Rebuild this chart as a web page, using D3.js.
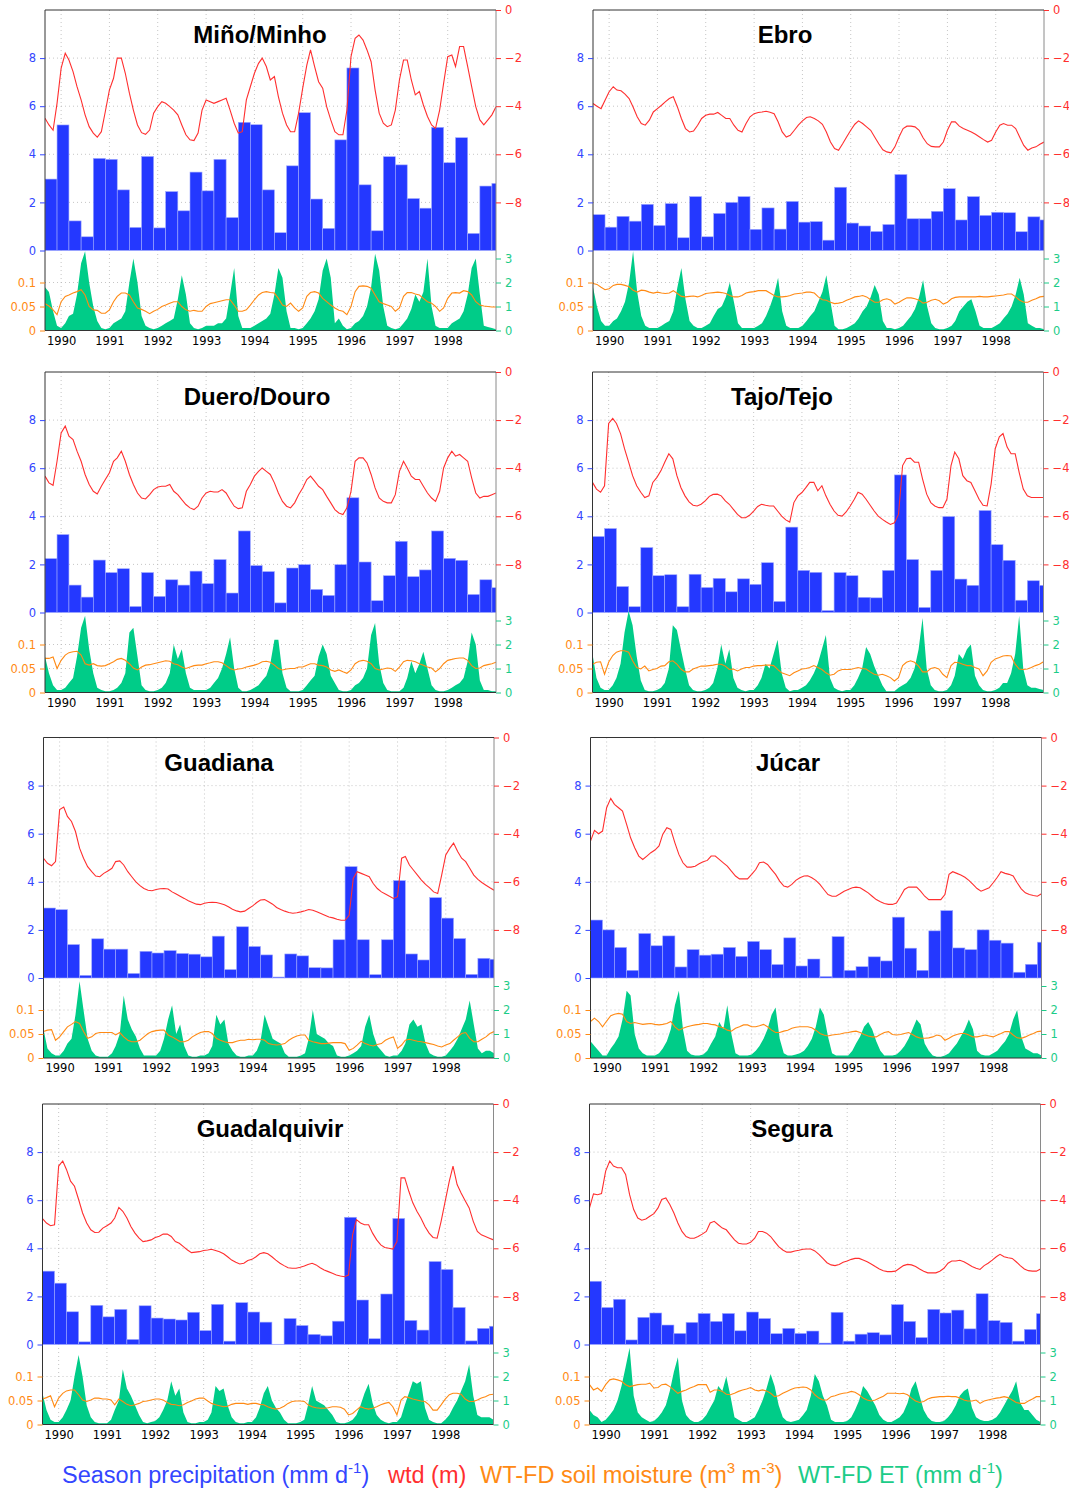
<!DOCTYPE html>
<html><head><meta charset="utf-8">
<script src="https://cdn.jsdelivr.net/npm/d3@7"></script>
<style>body{margin:0;background:#fff}svg{display:block}</style>
</head><body>
<svg id="chart" width="1069" height="1488"></svg>
<script>
// ---------- DATA ----------
const yearLabels = ["1990","1991","1992","1993","1994","1995","1996","1997","1998"];
const basinNames = ["Miño/Minho","Ebro","Duero/Douro","Tajo/Tejo","Guadiana","Júcar","Guadalquivir","Segura"];
const leftTicksTop = [0,2,4,6,8];
const rightTicksTop = [0,-2,-4,-6,-8];
const leftTicksBottom = [0,0.05,0.1];
const rightTicksBottom = [0,1,2,3];

// Seasonal precipitation (mm/d), seasons SON 1989 ... DJF 1998/99
const minoPrecip = [2.97,5.22,1.23,0.57,3.83,3.79,2.52,0.96,3.91,0.94,2.45,1.65,3.26,2.48,3.79,1.37,5.33,5.23,2.52,0.74,3.52,5.73,2.14,0.92,4.6,7.59,2.73,0.82,3.9,3.56,2.16,1.76,5.12,3.65,4.69,0.71,2.68,2.79];
const ebroPrecip = [1.49,0.97,1.42,1.22,1.92,1.04,1.95,0.53,2.24,0.57,1.54,2.0,2.24,0.88,1.77,0.89,2.04,1.18,1.2,0.43,2.63,1.14,1.02,0.79,1.08,3.16,1.32,1.32,1.63,2.57,1.27,2.24,1.46,1.59,1.57,0.78,1.4,1.27];
const dueroPrecip = [2.24,3.24,1.14,0.64,2.18,1.66,1.82,0.25,1.66,0.67,1.36,1.14,1.72,1.2,2.2,0.81,3.39,1.95,1.7,0.4,1.85,1.99,0.96,0.71,1.99,4.77,2.1,0.49,1.53,2.96,1.49,1.77,3.39,2.25,2.17,0.75,1.36,1.03];
const tajoPrecip = [3.16,3.49,1.08,0.24,2.7,1.53,1.57,0.24,1.59,1.04,1.42,0.86,1.4,1.17,2.07,0.46,3.55,1.75,1.67,0.08,1.66,1.53,0.63,0.61,1.75,5.72,2.2,0.21,1.75,3.99,1.39,1.13,4.24,2.82,2.17,0.51,1.32,1.13];
const guadianaPrecip = [2.91,2.84,1.39,0.11,1.63,1.2,1.2,0.19,1.11,1.04,1.14,1.02,0.99,0.88,1.74,0.35,2.13,1.31,0.96,0.04,1.0,0.92,0.43,0.42,1.59,4.63,1.59,0.14,1.59,4.05,1.0,0.75,3.34,2.49,1.64,0.15,0.82,0.78];
const jucarPrecip = [2.41,2.0,1.27,0.32,1.85,1.34,1.75,0.46,1.18,0.95,0.99,1.27,0.9,1.52,1.18,0.56,1.67,0.5,0.79,0.06,1.72,0.32,0.47,0.88,0.71,2.53,1.24,0.32,1.96,2.8,1.25,1.18,2.0,1.57,1.45,0.24,0.57,1.49];
const guadalquivirPrecip = [3.05,2.55,1.36,0.11,1.63,1.15,1.46,0.21,1.61,1.1,1.06,1.02,1.34,0.58,1.67,0.14,1.74,1.35,0.93,0.01,1.08,0.79,0.42,0.36,0.97,5.29,1.85,0.24,2.1,5.24,1.0,0.6,3.45,3.12,1.54,0.15,0.67,0.76];
const seguraPrecip = [2.63,1.54,1.88,0.19,1.13,1.31,0.81,0.46,0.92,1.29,0.96,1.29,0.57,1.35,1.08,0.45,0.67,0.46,0.56,0.06,1.34,0.14,0.43,0.49,0.4,1.66,0.96,0.29,1.46,1.31,1.43,0.65,2.11,0.99,0.92,0.14,0.63,1.28];

// Water table depth (m), monthly Sep 1989 ... Jan 1999
const minoWtd = [-4.5,-4.78,-5.0,-3.88,
-2.42,-1.8,-2.08,-2.56,-3.19,-3.74,-4.36,-4.85,-5.12,-5.29,-5.06,-4.22,
-3.32,-2.84,-2.0,-2.0,-2.63,-3.46,-4.16,-4.78,-5.1,-5.17,-4.99,-4.29,
-4.02,-3.81,-3.88,-4.02,-4.16,-4.36,-4.78,-5.19,-5.4,-5.43,-5.12,-4.16,
-3.74,-3.81,-3.88,-3.81,-3.74,-3.67,-4.16,-4.71,-5.12,-5.06,-3.74,-3.19,
-2.63,-2.22,-2.0,-2.35,-2.91,-2.77,-3.6,-4.29,-4.78,-5.06,-5.06,-4.29,
-3.25,-2.29,-1.66,-2.35,-2.98,-3.25,-4.02,-4.57,-5.06,-5.19,-5.19,-4.16,
-1.94,-1.18,-1.04,-1.25,-1.66,-2.15,-3.32,-4.29,-4.71,-4.85,-4.78,-4.16,
-2.91,-2.08,-2.08,-2.91,-3.53,-3.39,-3.95,-4.43,-4.78,-4.92,-4.16,-3.05,
-1.94,-1.87,-2.35,-1.52,-1.52,-2.35,-3.19,-4.02,-4.57,-4.78,-4.57,-4.36,
-4.02];
const ebroWtd = [-3.89,-4.0,-4.1,-3.75,
-3.4,-3.19,-3.33,-3.36,-3.5,-3.68,-4.03,-4.44,-4.72,-4.79,-4.58,-4.24,
-4.1,-3.96,-3.82,-3.68,-3.61,-4.03,-4.51,-4.93,-5.07,-5.03,-4.79,-4.51,
-4.38,-4.33,-4.33,-4.26,-4.38,-4.51,-4.51,-4.79,-5.0,-5.07,-4.72,-4.44,
-4.31,-4.26,-4.24,-4.21,-4.25,-4.31,-4.65,-5.07,-5.28,-5.21,-5.0,-4.79,
-4.61,-4.47,-4.44,-4.51,-4.61,-4.75,-5.07,-5.49,-5.76,-5.83,-5.56,-5.28,
-5.0,-4.75,-4.61,-4.72,-4.86,-5.0,-5.28,-5.56,-5.81,-5.9,-5.94,-5.69,
-5.28,-4.93,-4.83,-4.83,-4.86,-5.0,-5.31,-5.56,-5.67,-5.69,-5.69,-5.49,
-5.0,-4.65,-4.65,-4.83,-4.93,-5.0,-5.07,-5.17,-5.28,-5.39,-5.49,-5.42,
-5.07,-4.79,-4.72,-4.79,-4.79,-4.93,-5.28,-5.63,-5.83,-5.74,-5.69,-5.58,
-5.49];
const dueroWtd = [-4.33,-4.61,-4.71,-3.71,
-2.53,-2.25,-2.67,-2.81,-3.29,-3.71,-4.26,-4.68,-4.96,-5.07,-4.75,-4.47,
-4.19,-3.71,-3.57,-3.29,-3.71,-4.26,-4.68,-5.03,-5.24,-5.28,-5.1,-4.89,
-4.78,-4.75,-4.75,-4.68,-4.96,-5.1,-5.31,-5.51,-5.65,-5.72,-5.58,-5.24,
-5.03,-4.96,-4.99,-4.99,-4.89,-5.03,-5.31,-5.58,-5.68,-5.65,-4.96,-4.68,
-4.33,-4.13,-3.99,-4.13,-4.26,-4.61,-5.03,-5.38,-5.58,-5.65,-5.44,-5.1,
-4.82,-4.47,-4.33,-4.54,-4.75,-4.89,-5.17,-5.44,-5.72,-5.86,-5.93,-5.65,
-4.96,-3.71,-3.57,-3.57,-3.78,-4.26,-4.82,-5.24,-5.38,-5.44,-5.44,-5.1,
-4.13,-3.71,-3.99,-4.33,-4.47,-4.47,-4.75,-5.03,-5.24,-5.38,-4.96,-3.99,
-3.57,-3.29,-3.5,-3.43,-3.57,-3.71,-4.4,-5.03,-5.24,-5.17,-5.17,-5.1,
-5.03];
const tajoWtd = [-4.59,-4.87,-5.0,-4.73,
-2.14,-1.93,-2.14,-2.56,-3.19,-3.75,-4.31,-4.73,-5.0,-5.22,-5.15,-4.59,
-4.38,-4.1,-3.75,-3.4,-3.61,-4.31,-4.8,-5.15,-5.4,-5.54,-5.57,-5.5,
-5.36,-5.17,-5.09,-5.08,-5.15,-5.36,-5.5,-5.71,-5.92,-6.06,-6.06,-5.96,
-5.78,-5.59,-5.5,-5.54,-5.57,-5.57,-5.78,-5.99,-6.15,-6.24,-5.43,-5.15,
-5.01,-4.8,-4.59,-4.59,-4.94,-4.73,-5.15,-5.5,-5.78,-5.96,-5.99,-5.82,
-5.57,-5.29,-5.0,-5.08,-5.29,-5.54,-5.78,-5.99,-6.13,-6.24,-6.34,-6.27,
-5.92,-3.89,-3.61,-3.58,-3.75,-3.75,-4.45,-5.08,-5.43,-5.57,-5.64,-5.64,
-5.29,-3.89,-3.33,-3.61,-4.31,-4.52,-4.59,-4.94,-5.29,-5.54,-5.57,-4.66,
-3.19,-2.7,-2.56,-3.12,-3.4,-3.4,-4.17,-4.87,-5.15,-5.22,-5.22,-5.22,
-5.22];
const guadianaWtd = [-5.02,-5.23,-5.33,-5.16,
-3.0,-2.89,-3.28,-3.49,-3.91,-4.6,-5.02,-5.37,-5.58,-5.76,-5.79,-5.65,
-5.55,-5.44,-5.16,-5.13,-5.3,-5.58,-5.79,-6.0,-6.16,-6.28,-6.35,-6.37,
-6.32,-6.29,-6.28,-6.3,-6.42,-6.51,-6.6,-6.69,-6.79,-6.86,-6.93,-6.95,
-6.89,-6.86,-6.85,-6.86,-6.9,-6.95,-7.04,-7.14,-7.21,-7.25,-7.22,-7.11,
-7.0,-6.86,-6.76,-6.74,-6.83,-6.93,-7.07,-7.15,-7.22,-7.28,-7.31,-7.29,
-7.25,-7.2,-7.15,-7.18,-7.25,-7.32,-7.39,-7.46,-7.5,-7.56,-7.6,-7.6,
-7.39,-5.86,-5.58,-5.65,-5.72,-5.79,-6.07,-6.28,-6.42,-6.51,-6.6,-6.69,
-6.62,-5.02,-4.95,-5.3,-5.51,-5.72,-5.93,-6.11,-6.25,-6.42,-6.49,-5.72,
-4.88,-4.6,-4.39,-4.74,-5.02,-5.16,-5.44,-5.72,-5.9,-6.03,-6.14,-6.25,
-6.35];
const jucarWtd = [-4.31,-3.86,-4.0,-3.89,
-2.92,-2.53,-2.78,-2.92,-3.06,-3.61,-4.17,-4.58,-4.93,-5.07,-4.93,-4.79,
-4.68,-4.51,-4.03,-3.75,-3.82,-4.38,-4.86,-5.21,-5.39,-5.39,-5.35,-5.25,
-5.17,-5.11,-4.93,-4.93,-5.07,-5.21,-5.35,-5.56,-5.76,-5.88,-5.88,-5.88,
-5.69,-5.49,-5.21,-5.18,-5.28,-5.49,-5.69,-5.97,-6.18,-6.22,-6.11,-5.94,
-5.83,-5.76,-5.75,-5.83,-5.94,-6.11,-6.32,-6.53,-6.6,-6.6,-6.5,-6.39,
-6.32,-6.25,-6.22,-6.25,-6.35,-6.46,-6.6,-6.74,-6.83,-6.9,-6.94,-6.94,
-6.88,-6.6,-6.32,-6.22,-6.22,-6.22,-6.39,-6.6,-6.74,-6.74,-6.74,-6.74,
-6.53,-5.69,-5.58,-5.65,-5.72,-5.81,-5.94,-6.11,-6.28,-6.39,-6.32,-6.25,
-6.04,-5.81,-5.58,-5.65,-5.69,-5.76,-6.04,-6.29,-6.46,-6.53,-6.57,-6.6,
-6.5];
const guadalquivirWtd = [-4.77,-4.95,-5.06,-5.02,
-2.58,-2.37,-2.72,-3.21,-3.42,-3.97,-4.53,-4.95,-5.23,-5.34,-5.33,-5.16,
-5.06,-4.95,-4.74,-4.3,-4.46,-4.74,-5.09,-5.37,-5.58,-5.72,-5.69,-5.65,
-5.55,-5.5,-5.41,-5.41,-5.51,-5.72,-5.79,-5.93,-6.07,-6.18,-6.16,-6.14,
-6.09,-6.07,-6.04,-6.09,-6.14,-6.23,-6.35,-6.49,-6.58,-6.65,-6.62,-6.51,
-6.46,-6.35,-6.23,-6.18,-6.23,-6.35,-6.49,-6.62,-6.72,-6.81,-6.83,-6.83,
-6.79,-6.74,-6.67,-6.62,-6.69,-6.81,-6.9,-6.97,-7.04,-7.11,-7.15,-7.18,
-7.11,-5.44,-4.81,-4.95,-5.02,-5.02,-5.37,-5.65,-5.86,-5.97,-6.0,-6.03,
-5.72,-3.07,-3.07,-3.63,-4.11,-4.46,-4.74,-5.09,-5.37,-5.55,-5.58,-4.88,
-4.04,-3.21,-2.58,-3.35,-3.7,-4.02,-4.32,-4.88,-5.3,-5.44,-5.51,-5.58,
-5.65];
const seguraWtd = [-4.32,-3.74,-3.77,-3.72,
-2.79,-2.37,-2.58,-2.65,-2.65,-2.93,-3.77,-4.39,-4.74,-4.83,-4.78,-4.67,
-4.56,-4.32,-3.97,-3.91,-4.18,-4.53,-4.95,-5.3,-5.51,-5.58,-5.58,-5.51,
-5.41,-5.3,-4.95,-4.88,-5.02,-5.16,-5.23,-5.44,-5.65,-5.79,-5.82,-5.82,
-5.75,-5.58,-5.3,-5.3,-5.37,-5.51,-5.72,-5.93,-6.07,-6.16,-6.16,-6.11,
-6.08,-6.04,-6.03,-6.03,-6.11,-6.25,-6.42,-6.6,-6.69,-6.72,-6.67,-6.58,
-6.53,-6.46,-6.42,-6.42,-6.49,-6.56,-6.65,-6.76,-6.86,-6.93,-6.97,-6.97,
-6.95,-6.83,-6.72,-6.67,-6.69,-6.76,-6.86,-6.95,-7.02,-7.02,-7.02,-6.95,
-6.83,-6.62,-6.53,-6.53,-6.5,-6.56,-6.65,-6.76,-6.83,-6.88,-6.72,-6.62,
-6.49,-6.35,-6.25,-6.35,-6.39,-6.42,-6.56,-6.72,-6.86,-6.93,-6.95,-6.95,
-6.86];

// WT-FD soil moisture (m3/m3), monthly Sep 1989 ... Jan 1999
const minoSm = [0.056,0.051,0.043,0.033,
0.06,0.071,0.074,0.078,0.081,0.085,0.074,0.05,0.043,0.042,0.036,0.036,
0.043,0.06,0.071,0.078,0.078,0.074,0.06,0.047,0.044,0.04,0.035,0.04,
0.044,0.05,0.053,0.057,0.06,0.06,0.05,0.043,0.04,0.042,0.04,0.04,
0.05,0.056,0.058,0.06,0.062,0.064,0.064,0.053,0.04,0.04,0.043,0.053,
0.064,0.074,0.079,0.081,0.079,0.078,0.067,0.053,0.05,0.057,0.047,0.04,
0.047,0.071,0.079,0.081,0.078,0.067,0.06,0.053,0.047,0.042,0.04,0.033,
0.05,0.081,0.092,0.093,0.092,0.088,0.074,0.06,0.056,0.053,0.05,0.04,
0.047,0.071,0.079,0.079,0.076,0.074,0.067,0.06,0.057,0.05,0.04,0.047,
0.067,0.078,0.079,0.078,0.083,0.081,0.074,0.06,0.053,0.051,0.05,0.049,
0.049];
const ebroSm = [0.098,0.096,0.09,0.085,
0.087,0.094,0.096,0.096,0.094,0.091,0.084,0.08,0.084,0.083,0.08,0.078,
0.08,0.078,0.077,0.078,0.083,0.077,0.071,0.07,0.071,0.072,0.07,0.073,
0.077,0.078,0.079,0.08,0.079,0.077,0.073,0.07,0.07,0.073,0.078,0.08,
0.081,0.083,0.083,0.083,0.078,0.073,0.07,0.07,0.071,0.073,0.076,0.077,
0.078,0.08,0.08,0.078,0.07,0.064,0.063,0.059,0.056,0.057,0.059,0.063,
0.066,0.07,0.071,0.073,0.07,0.064,0.059,0.059,0.064,0.066,0.063,0.055,
0.059,0.064,0.068,0.068,0.066,0.063,0.057,0.059,0.063,0.065,0.062,0.055,
0.059,0.066,0.069,0.07,0.07,0.07,0.07,0.07,0.071,0.07,0.07,0.071,
0.072,0.073,0.074,0.076,0.076,0.07,0.063,0.059,0.059,0.063,0.066,0.07,
0.071];
const dueroSm = [0.071,0.071,0.074,0.05,
0.067,0.078,0.083,0.085,0.086,0.078,0.06,0.057,0.06,0.056,0.055,0.056,
0.06,0.064,0.069,0.071,0.067,0.06,0.051,0.047,0.053,0.057,0.058,0.06,
0.062,0.064,0.066,0.065,0.06,0.058,0.053,0.05,0.053,0.056,0.057,0.057,
0.06,0.062,0.064,0.064,0.062,0.056,0.05,0.047,0.049,0.05,0.053,0.055,
0.057,0.06,0.064,0.065,0.063,0.057,0.05,0.047,0.049,0.05,0.05,0.053,
0.053,0.057,0.06,0.06,0.057,0.056,0.053,0.047,0.044,0.047,0.043,0.04,
0.047,0.06,0.065,0.067,0.065,0.06,0.05,0.047,0.049,0.051,0.05,0.044,
0.053,0.064,0.067,0.066,0.064,0.06,0.057,0.053,0.051,0.043,0.05,0.06,
0.067,0.069,0.071,0.072,0.072,0.067,0.056,0.05,0.051,0.056,0.058,0.06,
0.063];
const tajoSm = [0.059,0.063,0.064,0.038,
0.063,0.077,0.084,0.087,0.087,0.084,0.066,0.052,0.049,0.055,0.045,0.048,
0.05,0.055,0.056,0.064,0.066,0.059,0.049,0.043,0.043,0.049,0.052,0.055,
0.055,0.056,0.057,0.059,0.059,0.055,0.048,0.049,0.045,0.049,0.052,0.052,
0.055,0.056,0.056,0.057,0.057,0.056,0.048,0.041,0.038,0.035,0.041,0.045,
0.049,0.05,0.052,0.056,0.052,0.048,0.041,0.036,0.038,0.045,0.048,0.048,
0.048,0.05,0.052,0.05,0.049,0.043,0.038,0.036,0.038,0.035,0.031,0.024,
0.031,0.056,0.063,0.066,0.063,0.055,0.043,0.043,0.05,0.052,0.049,0.038,
0.031,0.056,0.063,0.062,0.059,0.056,0.056,0.052,0.049,0.035,0.045,0.063,
0.07,0.073,0.076,0.077,0.076,0.059,0.049,0.048,0.049,0.052,0.056,0.059,
0.064];
const guadianaSm = [0.055,0.058,0.059,0.037,
0.044,0.055,0.065,0.07,0.076,0.072,0.055,0.041,0.044,0.051,0.053,0.053,
0.053,0.053,0.048,0.053,0.044,0.037,0.034,0.034,0.037,0.044,0.051,0.055,
0.057,0.058,0.058,0.048,0.044,0.039,0.034,0.034,0.037,0.044,0.049,0.053,
0.055,0.055,0.051,0.041,0.037,0.034,0.032,0.032,0.035,0.037,0.037,0.039,
0.038,0.039,0.039,0.037,0.03,0.028,0.027,0.028,0.03,0.037,0.042,0.046,
0.048,0.048,0.037,0.034,0.032,0.03,0.03,0.031,0.032,0.032,0.032,0.03,
0.016,0.02,0.027,0.035,0.03,0.027,0.025,0.028,0.03,0.037,0.041,0.044,
0.02,0.027,0.037,0.039,0.037,0.035,0.034,0.032,0.03,0.028,0.025,0.023,
0.027,0.03,0.037,0.044,0.051,0.053,0.041,0.034,0.034,0.039,0.044,0.051,
0.055];
const jucarSm = [0.076,0.083,0.076,0.065,
0.077,0.088,0.091,0.093,0.091,0.076,0.072,0.074,0.072,0.07,0.071,0.072,
0.07,0.069,0.07,0.072,0.076,0.065,0.058,0.062,0.065,0.067,0.069,0.07,
0.072,0.072,0.07,0.069,0.065,0.063,0.058,0.056,0.062,0.065,0.069,0.069,
0.065,0.065,0.067,0.07,0.065,0.058,0.053,0.053,0.056,0.058,0.062,0.064,
0.065,0.065,0.065,0.063,0.058,0.051,0.048,0.046,0.048,0.049,0.05,0.052,
0.053,0.055,0.056,0.053,0.049,0.046,0.044,0.044,0.049,0.053,0.055,0.049,
0.048,0.049,0.051,0.053,0.049,0.044,0.041,0.041,0.042,0.044,0.048,0.046,
0.037,0.041,0.046,0.049,0.051,0.051,0.048,0.044,0.044,0.046,0.048,0.046,
0.044,0.048,0.051,0.055,0.055,0.048,0.042,0.041,0.044,0.048,0.051,0.055,
0.056];
const guadalquivirSm = [0.053,0.056,0.06,0.037,
0.055,0.065,0.07,0.072,0.072,0.062,0.051,0.048,0.051,0.055,0.055,0.053,
0.053,0.051,0.041,0.053,0.048,0.042,0.039,0.041,0.044,0.048,0.049,0.051,
0.053,0.053,0.051,0.046,0.042,0.041,0.039,0.041,0.046,0.049,0.053,0.055,
0.055,0.049,0.044,0.041,0.039,0.037,0.038,0.042,0.044,0.044,0.044,0.042,
0.044,0.044,0.042,0.041,0.037,0.034,0.032,0.034,0.038,0.044,0.048,0.049,
0.049,0.048,0.041,0.037,0.035,0.034,0.034,0.035,0.037,0.037,0.036,0.032,
0.02,0.023,0.03,0.037,0.034,0.032,0.034,0.037,0.041,0.044,0.046,0.037,
0.02,0.051,0.058,0.056,0.053,0.051,0.049,0.048,0.041,0.03,0.03,0.041,
0.053,0.062,0.065,0.065,0.063,0.053,0.048,0.048,0.051,0.055,0.058,0.062,
0.063];
const seguraSm = [0.083,0.072,0.076,0.069,
0.083,0.093,0.095,0.093,0.09,0.083,0.079,0.081,0.083,0.084,0.084,0.086,
0.076,0.077,0.083,0.084,0.079,0.072,0.065,0.069,0.072,0.076,0.079,0.083,
0.083,0.083,0.067,0.072,0.072,0.069,0.063,0.062,0.065,0.069,0.072,0.074,
0.077,0.072,0.07,0.072,0.07,0.065,0.058,0.06,0.065,0.069,0.073,0.076,
0.077,0.078,0.077,0.072,0.062,0.055,0.051,0.051,0.058,0.06,0.063,0.065,
0.066,0.069,0.067,0.062,0.055,0.051,0.049,0.051,0.055,0.059,0.065,0.065,
0.065,0.064,0.065,0.062,0.055,0.049,0.046,0.048,0.053,0.056,0.057,0.058,
0.058,0.059,0.058,0.058,0.055,0.051,0.049,0.049,0.051,0.044,0.049,0.051,
0.053,0.055,0.056,0.058,0.056,0.051,0.046,0.044,0.044,0.049,0.053,0.058,
0.058];

// WT-FD ET (mm/d), monthly Sep 1989 ... Jan 1999
const minoEt = [1.8,1.6,0.8,0.2,
0.1,0.3,0.6,0.7,1.5,2.8,3.3,2.0,1.0,0.4,0.1,0.05,
0.1,0.3,0.4,0.5,0.8,2.0,3.0,2.0,0.6,0.2,0.1,0.05,
0.1,0.2,0.3,0.4,0.5,1.3,2.3,1.5,0.3,0.1,0.05,0.1,
0.2,0.2,0.2,0.3,0.3,0.5,1.5,2.6,0.6,0.1,0.1,0.1,
0.2,0.3,0.4,0.5,0.7,1.5,2.6,2.2,0.8,0.1,0.1,0.05,
0.1,0.3,0.5,0.8,1.3,2.5,3.0,2.2,0.3,0.5,0.2,0.05,
0.1,0.3,0.4,0.6,1.0,1.8,3.2,2.5,1.0,0.2,0.1,0.05,
0.1,0.3,0.5,0.9,1.5,1.2,1.6,3.0,1.0,0.2,0.1,0.1,
0.1,0.3,0.4,0.5,0.8,1.5,2.6,3.0,1.5,0.2,0.15,0.1,
0.05];
const ebroEt = [1.8,1.0,0.4,0.2,
0.2,0.4,0.5,0.8,1.2,2.0,3.3,1.6,0.6,0.2,0.1,0.1,
0.1,0.2,0.3,0.4,0.8,1.8,2.6,1.3,0.4,0.2,0.1,0.1,
0.2,0.3,0.6,0.9,1.0,1.4,2.0,1.2,0.3,0.1,0.1,0.1,
0.1,0.2,0.3,0.6,1.0,1.5,2.2,0.8,0.2,0.1,0.1,0.1,
0.2,0.4,0.6,0.8,1.2,1.6,2.3,1.2,0.2,0.05,0.05,0.1,
0.2,0.3,0.5,0.8,1.0,1.4,1.9,1.5,0.4,0.1,0.1,0.05,
0.1,0.2,0.4,0.6,0.9,1.4,2.1,1.0,0.3,0.1,0.05,0.05,
0.1,0.2,0.4,0.8,1.0,1.2,1.3,0.8,0.2,0.1,0.1,0.1,
0.2,0.3,0.5,0.7,1.0,1.5,2.2,1.5,0.3,0.2,0.1,0.1,
0.05];
const dueroEt = [1.5,0.8,0.3,0.1,
0.1,0.2,0.4,0.6,1.5,2.7,3.2,1.8,0.8,0.2,0.1,0.05,
0.05,0.1,0.2,0.4,0.8,2.5,2.7,1.5,0.3,0.1,0.05,0.05,
0.1,0.2,0.4,0.8,2.0,1.4,1.8,0.8,0.2,0.1,0.1,0.1,
0.1,0.2,0.4,0.6,1.0,1.6,2.3,1.0,0.2,0.05,0.05,0.1,
0.2,0.3,0.5,0.7,1.2,2.2,2.2,0.8,0.2,0.05,0.05,0.05,
0.1,0.3,0.5,0.7,1.5,2.0,1.6,0.7,0.4,0.1,0.05,0.05,
0.1,0.3,0.4,0.6,1.0,2.4,2.9,1.2,0.4,0.1,0.05,0.05,
0.05,0.2,0.6,1.3,0.8,1.2,1.7,1.0,0.3,0.1,0.05,0.05,
0.1,0.2,0.3,0.4,0.6,1.3,2.5,2.0,0.5,0.1,0.1,0.05,
0.05];
const tajoEt = [1.6,0.6,0.2,0.1,
0.1,0.3,0.6,1.2,2.5,3.4,2.8,1.5,0.5,0.1,0.05,0.05,
0.1,0.2,0.4,1.0,2.8,2.6,1.8,1.0,0.3,0.1,0.05,0.05,
0.1,0.2,0.4,1.0,2.0,1.2,1.8,0.6,0.2,0.1,0.05,0.1,
0.1,0.3,0.6,1.2,1.0,1.6,2.2,0.8,0.2,0.05,0.1,0.1,
0.2,0.3,0.5,0.8,1.2,1.8,2.4,0.6,0.2,0.1,0.05,0.1,
0.1,0.3,0.6,1.0,1.9,1.6,1.1,0.7,0.3,0.05,0.05,0.05,
0.2,0.3,0.4,0.6,1.0,1.8,3.1,1.0,0.3,0.1,0.05,0.05,
0.1,0.3,0.7,1.6,1.4,1.8,2.0,0.7,0.3,0.1,0.05,0.05,
0.1,0.2,0.4,0.4,0.8,1.6,3.2,1.0,0.3,0.2,0.2,0.15,
0.1];
const guadianaEt = [1.2,0.4,0.2,0.1,
0.1,0.3,0.6,0.8,1.8,3.2,2.0,0.8,0.3,0.1,0.05,0.05,
0.05,0.2,0.5,1.0,2.6,1.6,1.2,0.9,0.4,0.1,0.1,0.1,
0.1,0.3,0.8,1.6,2.2,1.0,1.4,0.5,0.1,0.05,0.05,0.1,
0.1,0.2,0.5,1.8,1.4,1.6,0.6,0.3,0.1,0.05,0.05,0.1,
0.1,0.3,0.7,1.8,1.3,0.8,0.7,0.6,0.2,0.05,0.05,0.05,
0.1,0.2,0.8,2.0,1.0,0.9,0.8,0.6,0.5,0.1,0.05,0.05,
0.1,0.2,0.3,0.5,1.3,1.8,1.0,0.5,0.3,0.1,0.05,0.1,
0.1,0.3,0.6,1.4,1.6,1.3,1.4,0.6,0.2,0.1,0.05,0.05,
0.1,0.3,0.5,0.8,1.2,1.6,2.4,1.4,0.4,0.2,0.3,0.3,
0.2];
const jucarEt = [0.7,0.5,0.3,0.1,
0.1,0.4,0.6,0.9,1.6,2.8,2.6,1.0,0.4,0.2,0.1,0.1,
0.1,0.2,0.4,0.7,1.2,2.2,2.8,1.2,0.3,0.15,0.1,0.1,
0.15,0.3,0.6,0.9,1.5,1.2,2.2,1.0,0.2,0.1,0.1,0.1,
0.15,0.3,0.5,0.8,1.2,1.8,2.1,0.8,0.2,0.1,0.1,0.15,
0.2,0.3,0.5,0.8,1.3,2.1,1.8,0.9,0.2,0.1,0.1,0.1,
0.1,0.3,0.6,0.9,1.3,1.5,1.2,0.7,0.3,0.1,0.1,0.1,
0.15,0.3,0.5,0.8,1.2,1.6,1.4,0.6,0.3,0.1,0.05,0.05,
0.1,0.2,0.4,0.6,0.9,1.2,1.6,1.2,0.3,0.15,0.1,0.1,
0.2,0.3,0.5,0.7,1.0,1.6,2.0,0.9,0.4,0.3,0.2,0.2,
0.1];
const guadalquivirEt = [1.3,0.6,0.2,0.1,
0.1,0.3,0.6,1.0,2.0,2.9,2.0,0.8,0.3,0.1,0.05,0.05,
0.05,0.2,0.6,1.0,2.3,1.5,1.2,0.8,0.4,0.1,0.05,0.1,
0.15,0.3,0.6,1.0,1.8,1.2,1.5,0.5,0.1,0.05,0.05,0.1,
0.1,0.2,0.5,1.6,1.4,1.5,0.8,0.3,0.1,0.05,0.05,0.1,
0.1,0.3,0.7,1.3,1.6,1.0,0.7,0.5,0.2,0.05,0.05,0.05,
0.1,0.2,0.8,1.6,1.0,0.9,0.8,0.6,0.4,0.1,0.05,0.05,
0.1,0.2,0.4,0.8,1.3,1.7,0.9,0.4,0.2,0.1,0.05,0.1,
0.1,0.3,0.8,1.3,1.8,1.7,1.8,0.7,0.2,0.1,0.05,0.05,
0.2,0.4,0.7,1.0,1.4,1.8,2.5,1.2,0.4,0.3,0.3,0.3,
0.2];
const seguraEt = [0.6,0.4,0.3,0.1,
0.2,0.4,0.6,1.0,1.6,2.4,3.2,1.2,0.5,0.3,0.2,0.1,
0.15,0.3,0.5,0.8,1.4,2.2,2.8,1.0,0.4,0.2,0.1,0.1,
0.2,0.4,0.7,1.0,1.6,1.4,2.0,1.2,0.3,0.2,0.1,0.1,
0.2,0.3,0.6,1.0,1.5,2.1,1.6,0.8,0.3,0.15,0.1,0.15,
0.2,0.4,0.6,1.2,2.1,1.8,1.2,0.8,0.2,0.1,0.1,0.1,
0.15,0.3,0.6,1.0,1.6,1.4,1.1,0.8,0.4,0.2,0.1,0.1,
0.2,0.3,0.5,0.9,1.5,1.8,1.2,0.6,0.3,0.15,0.1,0.1,
0.15,0.3,0.5,0.8,1.2,1.4,1.5,0.7,0.3,0.2,0.15,0.15,
0.2,0.3,0.5,0.8,1.1,1.4,1.8,0.9,0.6,0.6,0.4,0.2,
0.1];

// ---------- LAYOUT ----------
const C = {blue:"#2438ff", blueTxt:"#3346ff", red:"#ff2f2f", orange:"#ff8a14", green:"#00cc88", greenTxt:"#1ccc88"};
const panels = [
  {name:basinNames[0], precip:minoPrecip, wtd:minoWtd, sm:minoSm, et:minoEt, L:45, R:496, T:10, tx:260},
  {name:basinNames[1], precip:ebroPrecip, wtd:ebroWtd, sm:ebroSm, et:ebroEt, L:593, R:1044, T:10, tx:785},
  {name:basinNames[2], precip:dueroPrecip, wtd:dueroWtd, sm:dueroSm, et:dueroEt, L:45, R:496, T:372, tx:257},
  {name:basinNames[3], precip:tajoPrecip, wtd:tajoWtd, sm:tajoSm, et:tajoEt, L:592.5, R:1043.5, T:372, tx:782},
  {name:basinNames[4], precip:guadianaPrecip, wtd:guadianaWtd, sm:guadianaSm, et:guadianaEt, L:43.5, R:494, T:737.5, tx:219},
  {name:basinNames[5], precip:jucarPrecip, wtd:jucarWtd, sm:jucarSm, et:jucarEt, L:590.5, R:1041.5, T:737.5, tx:788},
  {name:basinNames[6], precip:guadalquivirPrecip, wtd:guadalquivirWtd, sm:guadalquivirSm, et:guadalquivirEt, L:42.5, R:493.5, T:1104, tx:270},
  {name:basinNames[7], precip:seguraPrecip, wtd:seguraWtd, sm:seguraSm, et:seguraEt, L:589.5, R:1040.5, T:1104, tx:792}
];
const UH = 240.5, LH = 80;
const t0 = new Date(1989,8,1), t1 = new Date(1999,0,1);
const svg = d3.select("#chart");
const tickFont = "'DejaVu Sans', Verdana, sans-serif";

panels.forEach((p, pi) => {
  const M = p.T + UH, B = M + LH;
  const g = svg.append("g");
  const x = d3.scaleTime().domain([t0, t1]).range([p.L, p.R]);
  const yP = d3.scaleLinear().domain([0,10]).range([M, p.T]);
  const yW = d3.scaleLinear().domain([-10,0]).range([M, p.T]);
  const ySM = d3.scaleLinear().domain([0,1/6]).range([B, M]);
  const yET = d3.scaleLinear().domain([0,10/3]).range([B, M]);
  const seasons = p.precip.map((v,i)=>({s:d3.timeMonth.offset(t0,3*i), e:d3.timeMonth.offset(t0,3*i+3), v}));
  const months = p.wtd.map((v,i)=>({d:d3.timeMonth.offset(t0,i), w:v, sm:p.sm[i], et:p.et[i]}));

  const clipId = "clip"+pi;
  g.append("clipPath").attr("id",clipId).append("rect")
    .attr("x",p.L).attr("y",p.T).attr("width",p.R-p.L).attr("height",B-p.T);

  // grid
  const grid = g.append("g").attr("stroke","#b8b8b8").attr("stroke-width",0.8).attr("stroke-dasharray","1,3");
  [2,4,6,8].forEach(v=>grid.append("line").attr("x1",p.L).attr("x2",p.R).attr("y1",yP(v)).attr("y2",yP(v)));
  [0.05,0.1].forEach(v=>grid.append("line").attr("x1",p.L).attr("x2",p.R).attr("y1",ySM(v)).attr("y2",ySM(v)));
  yearLabels.forEach(yl=>{
    const xx = x(new Date(+yl,0,1));
    grid.append("line").attr("x1",xx).attr("x2",xx).attr("y1",p.T).attr("y2",B);
  });

  const inner = g.append("g").attr("clip-path",`url(#${clipId})`);
  // precipitation bars
  inner.selectAll("rect.bar").data(seasons).join("rect").attr("class","bar")
    .attr("x",d=>x(d.s)).attr("width",d=>x(d.e)-x(d.s))
    .attr("y",d=>yP(d.v)).attr("height",d=>M-yP(d.v))
    .attr("fill",C.blue).attr("stroke","#9fa9ff").attr("stroke-width",0.6);
  // ET area
  inner.append("path").datum(months)
    .attr("d", d3.area().x(d=>x(d.d)).y0(B).y1(d=>yET(d.et)))
    .attr("fill",C.green);
  // soil moisture
  inner.append("path").datum(months)
    .attr("d", d3.line().x(d=>x(d.d)).y(d=>ySM(d.sm)))
    .attr("fill","none").attr("stroke",C.orange).attr("stroke-width",1.1);
  // wtd
  inner.append("path").datum(months)
    .attr("d", d3.line().x(d=>x(d.d)).y(d=>yW(d.w)))
    .attr("fill","none").attr("stroke",C.red).attr("stroke-width",1.1);

  // frame
  g.append("line").attr("x1",p.R).attr("x2",p.R).attr("y1",p.T).attr("y2",B).attr("stroke","#8a8a8a").attr("stroke-width",1);
  g.append("line").attr("x1",p.L).attr("x2",p.R).attr("y1",p.T).attr("y2",p.T).attr("stroke","#333").attr("stroke-width",1);
  g.append("line").attr("x1",p.L).attr("x2",p.L).attr("y1",p.T).attr("y2",B).attr("stroke","#333").attr("stroke-width",1);
  g.append("line").attr("x1",p.L).attr("x2",p.R).attr("y1",B).attr("y2",B).attr("stroke","#333").attr("stroke-width",1);

  // axes
  const styleAxis = (sel, col) => {
    sel.select(".domain").remove();
    sel.selectAll(".tick line").attr("stroke",col);
    sel.selectAll(".tick text").attr("fill",col).style("font-family",tickFont).style("font-size","11.5px");
  };
  g.append("g").attr("transform",`translate(${p.L},0)`)
    .call(d3.axisLeft(yP).tickValues(leftTicksTop).tickSize(5).tickPadding(4).tickFormat(d3.format("d")))
    .call(s=>styleAxis(s,C.blueTxt));
  g.append("g").attr("transform",`translate(${p.L},0)`)
    .call(d3.axisLeft(ySM).tickValues(leftTicksBottom).tickSize(5).tickPadding(4).tickFormat(d=>d===0?"0":String(d)))
    .call(s=>styleAxis(s,C.orange));
  g.append("g").attr("transform",`translate(${p.R},0)`)
    .call(d3.axisRight(yW).tickValues(rightTicksTop).tickSize(5).tickPadding(4).tickFormat(d=>d===0?"0":"\u2212"+Math.abs(d)))
    .call(s=>styleAxis(s,C.red));
  g.append("g").attr("transform",`translate(${p.R},0)`)
    .call(d3.axisRight(yET).tickValues(rightTicksBottom).tickSize(5).tickPadding(4).tickFormat(d3.format("d")))
    .call(s=>styleAxis(s,C.greenTxt));
  g.append("g").attr("transform",`translate(0,${B})`)
    .call(d3.axisBottom(x).tickValues(yearLabels.map(y=>new Date(+y,0,1))).tickSize(0).tickPadding(6).tickFormat(d3.timeFormat("%Y")))
    .call(s=>styleAxis(s,"#000"));

  // title
  g.append("text").attr("x",p.tx).attr("y",p.T+33).attr("text-anchor","middle")
    .style("font-family","'Liberation Sans', Arial, sans-serif").style("font-weight","bold").style("font-size","24px")
    .attr("fill","#000").text(p.name);
});

// ---------- LEGEND ----------
const legendItems = [
  {x:62, col:C.blueTxt, parts:[["Season precipitation (mm d",0],["-1",1],[")",0]]},
  {x:388, col:C.red, parts:[["wtd (m)",0]]},
  {x:480, col:C.orange, parts:[["WT-FD soil moisture (m",0],["3",1],[" m",0],["-3",1],[")",0]]},
  {x:798, col:C.greenTxt, parts:[["WT-FD ET (mm d",0],["-1",1],[")",0]]}
];
legendItems.forEach(it=>{
  const t = svg.append("text").attr("x",it.x).attr("y",1483).attr("fill",it.col)
    .style("font-family","'Liberation Sans', Arial, sans-serif").style("font-size","23.5px");
  let prevSup = false;
  it.parts.forEach(([s,sup])=>{
    const ts = t.append("tspan").text(s);
    if (sup) { ts.attr("dy",-10).style("font-size","15px"); prevSup = true; }
    else { if (prevSup) ts.attr("dy",10); prevSup = false; }
  });
});
</script>
</body></html>
